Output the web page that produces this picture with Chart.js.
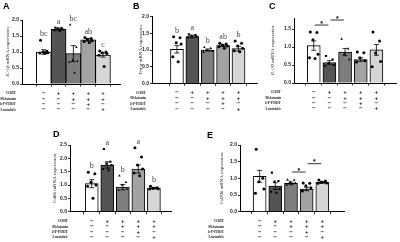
<!DOCTYPE html>
<html>
<head>
<meta charset="utf-8">
<script src="https://cdn.jsdelivr.net/npm/chart.js@4.4.1/dist/chart.umd.min.js"></script>
<style>
  body { margin: 0; background: #fff; }
  #wrap { position: relative; width: 400px; height: 242px; overflow: hidden; }
  canvas { position: absolute; }
</style>
</head>
<body>
<div id="wrap"></div>
<script>
// treatment table (same for every panel)
const rowNames = ['CORT', 'Melatonin', '4-P-PDOT', 'Luzindole'];
const cort      = ['−', '+', '+', '+', '+'];
const melatonin = ['−', '−', '+', '+', '+'];
const pdot      = ['−', '−', '−', '+', '−'];
const luzindole = ['−', '−', '−', '−', '+'];

// A - IL-1β
const aMeans = [1.0, 1.72, 0.95, 1.38, 0.9];
const aErr = [0.07, 0.03, 0.25, 0.04, 0.06];
const aDots = [[1.37, 1.02, 1.0, 0.98, 0.97, 0.96], [1.76, 1.75, 1.73, 1.7, 1.68, 1.66],
	[1.85, 1.15, 0.75, 0.72, 0.68, 0.35], [1.45, 1.42, 1.4, 1.35, 1.33, 1.3], [1.03, 1.0, 0.98, 0.95, 0.9, 0.55]];
const aLetters = ['bc', 'a', 'bc', 'ab', 'c'];

// B - Tnf-α
const bMeans = [1.02, 1.4, 1.0, 1.13, 1.04];
const bErr = [0.11, 0.03, 0.03, 0.03, 0.07];
const bDots = [[1.4, 1.37, 1.22, 1.18, 0.8, 0.65], [1.47, 1.45, 1.43, 1.4, 1.38],
	[1.08, 1.05, 1.0, 0.96, 0.93], [1.2, 1.18, 1.15, 1.12, 1.1, 1.05], [1.27, 1.2, 1.12, 1.05, 0.98, 0.95]];
const bLetters = ['b', 'a', 'b', 'ab', 'b'];

// C - IL-10
const cMeans = [1.04, 0.57, 0.86, 0.65, 0.92];
const cErr = [0.13, 0.05, 0.1, 0.05, 0.15];
const cDots = [[1.42, 1.4, 1.2, 0.8, 0.7, 0.68], [0.75, 0.65, 0.55, 0.5, 0.48],
	[1.22, 0.95, 0.8, 0.65], [0.86, 0.84, 0.7, 0.62, 0.58], [1.42, 1.17, 0.83, 0.6, 0.45]];
const cSig = [{ from: 0, to: 1, y: 1.61 }, { from: 1, to: 2, y: 1.75 }];

// D - Cd86
const dMeans = [1.05, 1.75, 0.92, 1.6, 0.88];
const dErr = [0.15, 0.12, 0.1, 0.15, 0.03];
const dDots = [[1.48, 1.42, 1.1, 1.0, 0.95, 0.5], [2.35, 1.87, 1.8, 1.75, 1.6, 1.55],
	[1.35, 1.1, 1.0, 0.85, 0.8], [2.4, 2.05, 1.75, 1.6, 1.45, 1.35], [0.95, 0.9, 0.88, 0.86, 0.85]];
const dLetters = ['b', 'a', 'b', 'a', 'b'];

// E - Cd206
const eMeans = [1.06, 0.77, 0.85, 0.68, 0.88];
const eErr = [0.18, 0.1, 0.04, 0.05, 0.03];
const eDots = [[1.87, 1.0, 0.9, 0.68, 0.55], [1.17, 0.92, 0.9, 0.68, 0.6, 0.57],
	[0.96, 0.95, 0.9, 0.86, 0.8], [0.86, 0.85, 0.78, 0.72, 0.62], [0.95, 0.92, 0.88, 0.86, 0.85]];
const eSig = [{ from: 2, to: 3, y: 1.19 }, { from: 3, to: 4, y: 1.44 }];

const barColors = ['#ffffff', '#545454', '#7d7d7d', '#a3a3a3', '#d6d6d6'];
const dotStyles = ['circle', 'rect', 'triangle', 'circle', 'circle'];
const jitter = [-0.22, 0.2, -0.05, 0.27, -0.27, 0.08];
const tableRows = [cort, melatonin, pdot, luzindole];

function makePanel(p) {
	const cv = document.createElement('canvas');
	cv.width = p.w; cv.height = p.h;
	cv.style.left = p.left + 'px'; cv.style.top = p.top + 'px';
	document.getElementById('wrap').appendChild(cv);

	const datasets = [{
		type: 'bar',
		data: p.means.map((v, i) => ({ x: i, y: v })),
		backgroundColor: barColors,
		borderColor: '#000',
		borderWidth: 1,
		barThickness: p.barW,
		order: 2,
	}];
	p.dots.forEach((list, i) => {
		datasets.push({
			type: 'scatter',
			data: list.map((v, k) => ({ x: i + jitter[k % jitter.length], y: v })),
			pointStyle: dotStyles[i],
			pointRadius: 1.5,
			backgroundColor: '#000',
			borderColor: '#000',
			borderWidth: 0,
			order: 0,
		});
	});

	const panelPlugin = {
		id: 'panelExtras',
		afterDatasetsDraw(chart) {
			const ctx = chart.ctx;
			const xs = chart.scales.x, ys = chart.scales.y;
			ctx.save();
			ctx.strokeStyle = '#000';
			ctx.lineWidth = 0.8;
			p.means.forEach((m, i) => {
				const x = xs.getPixelForValue(i);
				const y1 = ys.getPixelForValue(m + p.err[i]);
				const y0 = ys.getPixelForValue(m - p.err[i]);
				ctx.beginPath();
				ctx.moveTo(x, y0); ctx.lineTo(x, y1);
				ctx.moveTo(x - 2.5, y1); ctx.lineTo(x + 2.5, y1);
				ctx.moveTo(x - 2.5, y0); ctx.lineTo(x + 2.5, y0);
				ctx.stroke();
			});
			ctx.restore();
		},
		afterDraw(chart) {
			const ctx = chart.ctx;
			const xs = chart.scales.x, ys = chart.scales.y;
			const area = chart.chartArea;
			ctx.save();

			// panel letter
			ctx.fillStyle = '#000';
			ctx.font = 'bold 9px "Liberation Sans"';
			ctx.textBaseline = 'top';
			ctx.textAlign = 'left';
			ctx.fillText(p.name, p.labelX, p.labelY);

			// letters above bars
			if (p.letters) {
				ctx.fillStyle = '#444';
				ctx.font = '8px "Liberation Serif"';
				ctx.textAlign = 'center';
				ctx.textBaseline = 'alphabetic';
				p.letters.forEach((t, i) => {
					const top = Math.max(p.means[i] + p.err[i], ...p.dots[i]);
					ctx.fillText(t, xs.getPixelForValue(i), ys.getPixelForValue(top) - 4);
				});
			}

			// significance brackets
			if (p.sig) {
				ctx.strokeStyle = '#000';
				ctx.lineWidth = 0.8;
				ctx.fillStyle = '#000';
				ctx.font = 'bold 7px "Liberation Sans"';
				ctx.textAlign = 'center';
				ctx.textBaseline = 'alphabetic';
				p.sig.forEach(s => {
					const x0 = xs.getPixelForValue(s.from) + 1;
					const x1 = xs.getPixelForValue(s.to) - 1;
					const y = ys.getPixelForValue(s.y);
					ctx.beginPath();
					ctx.moveTo(x0, y); ctx.lineTo(x1, y);
					ctx.stroke();
					ctx.fillText('*', (x0 + x1) / 2, y + 0.5);
				});
			}

			// y axis title, gene name in italics
			ctx.translate(p.titleX, (area.top + area.bottom) / 2);
			ctx.rotate(-Math.PI / 2);
			ctx.fillStyle = '#222';
			ctx.textBaseline = 'middle';
			ctx.textAlign = 'left';
			const fItal = 'italic 5px "Liberation Serif"';
			const fNorm = '5px "Liberation Serif"';
			ctx.font = fItal;
			const w1 = ctx.measureText(p.gene).width;
			ctx.font = fNorm;
			const rest = ' mRNA expression';
			const w2 = ctx.measureText(rest).width;
			let x = -(w1 + w2) / 2;
			ctx.font = fItal;
			ctx.fillText(p.gene, x, 0);
			ctx.font = fNorm;
			ctx.fillText(rest, x + w1, 0);
			ctx.setTransform(1, 0, 0, 1, 0, 0);

			// treatment table
			tableRows.forEach((row, r) => {
				const y = area.bottom + 9.5 + r * 5.4;
				ctx.fillStyle = '#222';
				ctx.font = 'bold 3.6px "Liberation Serif"';
				ctx.textAlign = 'right';
				ctx.textBaseline = 'middle';
				ctx.fillText(rowNames[r], p.tableX, y);
				ctx.font = 'bold 6px "Liberation Sans"';
				ctx.textAlign = 'center';
				row.forEach((s, i) => ctx.fillText(s, xs.getPixelForValue(i), y));
			});
			ctx.restore();
		}
	};

	return new Chart(cv, {
		type: 'bar',
		data: { datasets: datasets },
		options: {
			responsive: false,
			animation: false,
			events: [],
			layout: { padding: { top: p.plotTop, right: p.w - p.plotRight, left: 0, bottom: 0 } },
			plugins: { legend: { display: false }, tooltip: { enabled: false } },
			scales: {
				x: {
					type: 'linear',
					min: p.xmin,
					max: p.xmax,
					grid: { drawOnChartArea: false, drawTicks: true, tickLength: 2.5, color: '#000', lineWidth: 0.8 },
					border: { color: '#000', width: 1 },
					ticks: { display: false },
					afterBuildTicks: s => { s.ticks = [0, 1, 2, 3, 4].map(v => ({ value: v })); },
					afterFit: s => { s.height = p.h - p.plotBottom; },
				},
				y: {
					min: 0,
					max: p.ymax,
					grid: { drawOnChartArea: false, drawTicks: true, tickLength: 2, color: '#000', lineWidth: 0.8 },
					border: { color: '#000', width: 1 },
					ticks: {
						stepSize: 0.5,
						padding: 1,
						color: '#222',
						font: { family: 'Liberation Sans', size: 5, weight: 'bold' },
						callback: v => v.toFixed(1),
					},
					afterBuildTicks: s => { s.ticks = s.ticks.filter(t => Math.abs(t.value * 2 - Math.round(t.value * 2)) < 1e-6); },
					afterFit: s => { s.width = p.axisX; },
				}
			}
		},
		plugins: [panelPlugin]
	});
}

const panels = [
	{ name: 'A', gene: 'IL-1β', means: aMeans, err: aErr, dots: aDots, letters: aLetters,
		left: 0, top: 0, w: 130, h: 121, axisX: 22, plotTop: 20, plotBottom: 84, plotRight: 120,
		xmin: -0.81, xmax: 4.49, ymax: 2.0, barW: 15, titleX: 8, tableX: 16, labelX: 3, labelY: 2 },
	{ name: 'B', gene: 'Tnf-α', means: bMeans, err: bErr, dots: bDots, letters: bLetters,
		left: 130, top: 0, w: 135, h: 121, axisX: 22, plotTop: 16.7, plotBottom: 83.3, plotRight: 127,
		xmin: -0.94, xmax: 4.52, ymax: 2.0, barW: 13, titleX: 11, tableX: 16, labelX: 3, labelY: 2 },
	{ name: 'C', gene: 'IL-10', means: cMeans, err: cErr, dots: cDots, sig: cSig,
		left: 265, top: 0, w: 135, h: 121, axisX: 29, plotTop: 18.2, plotBottom: 83, plotRight: 131,
		xmin: -0.61, xmax: 4.6, ymax: 1.8, barW: 13, titleX: 8, tableX: 16, labelX: 4, labelY: 2 },
	{ name: 'D', gene: 'Cd86', means: dMeans, err: dErr, dots: dDots, letters: dLetters,
		left: 0, top: 121, w: 175, h: 121, axisX: 70, plotTop: 24, plotBottom: 90.7, plotRight: 171,
		xmin: -0.75, xmax: 4.45, ymax: 2.5, barW: 13, titleX: 55, tableX: 68, labelX: 53, labelY: 9 },
	{ name: 'E', gene: 'Cd206', means: eMeans, err: eErr, dots: eDots, sig: eSig,
		left: 175, top: 121, w: 225, h: 121, axisX: 65, plotTop: 24, plotBottom: 90.7, plotRight: 169,
		xmin: -0.59, xmax: 4.72, ymax: 2.0, barW: 13, titleX: 47, tableX: 49, labelX: 32, labelY: 10 },
];

panels.forEach(makePanel);
</script>
</body>
</html>
